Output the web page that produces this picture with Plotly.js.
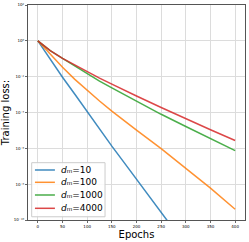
<!DOCTYPE html>
<html>
<head>
<meta charset="utf-8">
<script src="https://cdn.plot.ly/plotly-3.0.1.min.js"></script>
<style>html,body{margin:0;padding:0;background:#fff;}#chart{width:249px;height:242px;}</style>
</head>
<body>
<div id="chart"></div>
<script>
// Epochs and log10(training loss)
const epochs = [0, 25, 50, 75, 100, 125, 150, 175, 200, 250, 300, 350, 400];
const epochsBlue = [0, 25, 50, 75, 100, 125, 150, 175, 200, 225, 250, 275];
const logLoss10 = [0, -1.03, -2.03, -2.98, -3.96, -4.92, -5.88, -6.8, -7.72, -8.65, -9.55, -10.5];
const logLoss100 = [0, -0.75, -1.47, -2.15, -2.78, -3.36, -3.92, -4.46, -4.98, -6.02, -7.1, -8.22, -9.4];
const logLoss1000 = [0, -0.55, -0.98, -1.4, -1.85, -2.25, -2.63, -3.0, -3.38, -4.1, -4.78, -5.45, -6.13];
const logLoss4000 = [0, -0.55, -0.98, -1.36, -1.74, -2.08, -2.42, -2.76, -3.08, -3.72, -4.35, -4.96, -5.56];
const seriesNames = ["<i>d</i>ₘ=10", "<i>d</i>ₘ=100", "<i>d</i>ₘ=1000", "<i>d</i>ₘ=4000"];
const colors = ["#1f77b4", "#ff7f0e", "#2ca02c", "#d62728"];
const xTicks = [0, 50, 100, 150, 200, 250, 300, 350, 400];
const yTickExp = [2, 0, -2, -4, -6, -8, -10];
const yTickText = ["10²", "10⁰", "10⁻²", "10⁻⁴", "10⁻⁶", "10⁻⁸", "10⁻¹⁰"];

const toLoss = arr => arr.map(v => Math.pow(10, v));
const xs = [epochsBlue, epochs, epochs, epochs];
const ys = [logLoss10, logLoss100, logLoss1000, logLoss4000];
const traces = ys.map((y, i) => ({
  x: xs[i], y: toLoss(y), type: 'scatter', mode: 'lines', name: seriesNames[i],
  opacity: 0.85, line: {color: colors[i], width: 1.5}, showlegend: false
}));

// Compact matplotlib-style legend (layout only, in paper coordinates)
const legBox = {x0: 0.017, x1: 0.355, y0: 0.015, y1: 0.2665};
const rowY = [0.2326, 0.1753, 0.1163, 0.0544];
const shapes = [{type: 'rect', xref: 'paper', yref: 'paper', x0: legBox.x0, x1: legBox.x1, y0: legBox.y0, y1: legBox.y1,
  fillcolor: 'rgba(255,255,255,0.85)', line: {color: '#cccccc', width: 1}, layer: 'above'}];
const annotations = [];
seriesNames.forEach((n, i) => {
  shapes.push({type: 'line', xref: 'paper', yref: 'paper', x0: 0.032, x1: 0.124, y0: rowY[i], y1: rowY[i],
    line: {color: colors[i], width: 1.5}, opacity: 0.85, layer: 'above'});
  annotations.push({xref: 'paper', yref: 'paper', x: 0.145, y: rowY[i], xanchor: 'left', yanchor: 'middle',
    text: n, showarrow: false, font: {size: 9, family: 'DejaVu Sans', color: '#000'}});
});

const layout = {
  width: 249, height: 242,
  margin: {l: 28, r: 4, t: 5, b: 22},
  paper_bgcolor: '#fff', plot_bgcolor: '#fff',
  font: {family: 'DejaVu Sans', color: '#000'},
  showlegend: false,
  shapes: shapes, annotations: annotations,
  xaxis: {range: [-20, 420], tickvals: xTicks, ticktext: xTicks.map(String),
    ticks: 'outside', ticklen: 2, tickwidth: 0.8, tickcolor: '#444',
    tickfont: {size: 4}, showline: true, mirror: true, linecolor: '#555', linewidth: 1,
    showgrid: true, gridcolor: '#dcdcdc', gridwidth: 1, zeroline: false,
    title: {text: 'Epochs', font: {size: 10}, standoff: 1}},
  yaxis: {type: 'log', range: [-10, 2], tickvals: yTickExp.map(e => Math.pow(10, e)), ticktext: yTickText,
    ticks: 'outside', ticklen: 2, tickwidth: 0.8, tickcolor: '#444',
    tickfont: {size: 4}, showline: true, mirror: true, linecolor: '#555', linewidth: 1,
    showgrid: true, gridcolor: '#dcdcdc', gridwidth: 1, zeroline: false,
    title: {text: 'Training loss:', font: {size: 10}, standoff: 2}}
};
Plotly.newPlot('chart', traces, layout, {displayModeBar: false, staticPlot: true});
</script>
</body>
</html>
